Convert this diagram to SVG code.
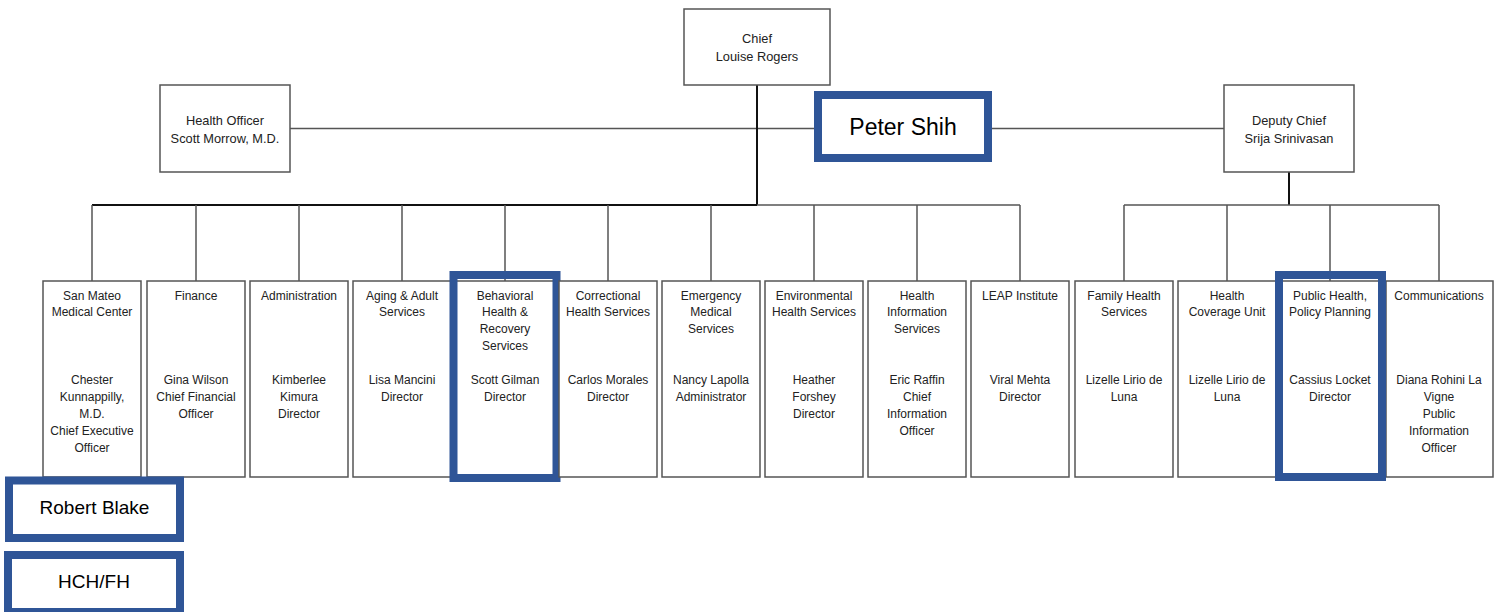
<svg xmlns="http://www.w3.org/2000/svg" width="1500" height="612" viewBox="0 0 1500 612">
<style>
.box{fill:#fff;stroke:#555;stroke-width:1.5}
.hl{fill:none;stroke:#2F5597;stroke-width:8}
.hlf{fill:#fff;stroke:#2F5597;stroke-width:8}
.ln{stroke:#555;stroke-width:1.5;fill:none}
.tk{stroke:#111;stroke-width:2;fill:none}
text{font-family:"Liberation Sans",Arial,sans-serif;fill:#222;text-anchor:middle}
.t{font-size:12px}
.top{font-size:12.8px}
.big{font-size:23px;fill:#000}
.mid{font-size:19px;fill:#000}
</style>
<rect width="1500" height="612" fill="#fff"/>
<g id="connectors">
<line class="ln" x1="290" y1="128.5" x2="1224" y2="128.5"/>
<line class="tk" x1="757" y1="85" x2="757" y2="205"/>
<line class="tk" x1="92" y1="205" x2="757" y2="205"/>
<line class="ln" x1="757" y1="205" x2="1020" y2="205"/>
<line class="tk" x1="1289" y1="172" x2="1289" y2="205"/>
<line class="ln" x1="1124" y1="205" x2="1439" y2="205"/>
<path class="ln" d="M92 205V281M196 205V281M299 205V281M402 205V281M505 205V281M608 205V281M711 205V281M814 205V281M917 205V281M1020 205V281M1124 205V281M1227 205V281M1330 205V281M1439 205V281"/>
</g>
<g id="chief"><rect class="box" x="684" y="9" width="146" height="76"/>
<text class="top" x="757" y="43">Chief</text><text class="top" x="757" y="61">Louise Rogers</text></g>
<g id="health-officer"><rect class="box" x="160" y="85" width="130" height="87"/>
<text class="top" x="225" y="125">Health Officer</text><text class="top" x="225" y="143">Scott Morrow, M.D.</text></g>
<g id="deputy-chief"><rect class="box" x="1224" y="85" width="130" height="87"/>
<text class="top" x="1289" y="125">Deputy Chief</text><text class="top" x="1289" y="143">Srija Srinivasan</text></g>
<g id="peter-shih"><rect class="hlf" x="818" y="95" width="170" height="63"/>
<text class="big" x="903" y="134.5">Peter Shih</text></g>

<g id="san-mateo"><rect class="box" x="43" y="281" width="98" height="196"/>
<text class="t" x="92" y="299.5">San Mateo</text><text class="t" x="92" y="316">Medical Center</text>
<text class="t" x="92" y="383.5">Chester</text><text class="t" x="92" y="400.5">Kunnappilly,</text><text class="t" x="92" y="417.5">M.D.</text><text class="t" x="92" y="434.5">Chief Executive</text><text class="t" x="92" y="451.5">Officer</text></g>
<g id="finance"><rect class="box" x="147" y="281" width="98" height="196"/>
<text class="t" x="196" y="299.5">Finance</text>
<text class="t" x="196" y="383.5">Gina Wilson</text><text class="t" x="196" y="400.5">Chief Financial</text><text class="t" x="196" y="417.5">Officer</text></g>
<g id="administration"><rect class="box" x="250" y="281" width="98" height="196"/>
<text class="t" x="299" y="299.5">Administration</text>
<text class="t" x="299" y="383.5">Kimberlee</text><text class="t" x="299" y="400.5">Kimura</text><text class="t" x="299" y="417.5">Director</text></g>
<g id="aging"><rect class="box" x="353" y="281" width="98" height="196"/>
<text class="t" x="402" y="299.5">Aging &amp; Adult</text><text class="t" x="402" y="316">Services</text>
<text class="t" x="402" y="383.5">Lisa Mancini</text><text class="t" x="402" y="400.5">Director</text></g>
<g id="behavioral"><rect class="box" x="456" y="281" width="98" height="196"/>
<text class="t" x="505" y="299.5">Behavioral</text><text class="t" x="505" y="316">Health &amp;</text><text class="t" x="505" y="333">Recovery</text><text class="t" x="505" y="349.5">Services</text>
<text class="t" x="505" y="383.5">Scott Gilman</text><text class="t" x="505" y="400.5">Director</text>
<rect class="hl" x="453.5" y="275" width="103" height="203"/></g>
<g id="correctional"><rect class="box" x="559" y="281" width="98" height="196"/>
<text class="t" x="608" y="299.5">Correctional</text><text class="t" x="608" y="316">Health Services</text>
<text class="t" x="608" y="383.5">Carlos Morales</text><text class="t" x="608" y="400.5">Director</text></g>
<g id="emergency"><rect class="box" x="662" y="281" width="98" height="196"/>
<text class="t" x="711" y="299.5">Emergency</text><text class="t" x="711" y="316">Medical</text><text class="t" x="711" y="333">Services</text>
<text class="t" x="711" y="383.5">Nancy Lapolla</text><text class="t" x="711" y="400.5">Administrator</text></g>
<g id="environmental"><rect class="box" x="765" y="281" width="98" height="196"/>
<text class="t" x="814" y="299.5">Environmental</text><text class="t" x="814" y="316">Health Services</text>
<text class="t" x="814" y="383.5">Heather</text><text class="t" x="814" y="400.5">Forshey</text><text class="t" x="814" y="417.5">Director</text></g>
<g id="health-information"><rect class="box" x="868" y="281" width="98" height="196"/>
<text class="t" x="917" y="299.5">Health</text><text class="t" x="917" y="316">Information</text><text class="t" x="917" y="333">Services</text>
<text class="t" x="917" y="383.5">Eric Raffin</text><text class="t" x="917" y="400.5">Chief</text><text class="t" x="917" y="417.5">Information</text><text class="t" x="917" y="434.5">Officer</text></g>
<g id="leap"><rect class="box" x="971" y="281" width="98" height="196"/>
<text class="t" x="1020" y="299.5">LEAP Institute</text>
<text class="t" x="1020" y="383.5">Viral Mehta</text><text class="t" x="1020" y="400.5">Director</text></g>
<g id="family-health"><rect class="box" x="1075" y="281" width="98" height="196"/>
<text class="t" x="1124" y="299.5">Family Health</text><text class="t" x="1124" y="316">Services</text>
<text class="t" x="1124" y="383.5">Lizelle Lirio de</text><text class="t" x="1124" y="400.5">Luna</text></g>
<g id="health-coverage"><rect class="box" x="1178" y="281" width="98" height="196"/>
<text class="t" x="1227" y="299.5">Health</text><text class="t" x="1227" y="316">Coverage Unit</text>
<text class="t" x="1227" y="383.5">Lizelle Lirio de</text><text class="t" x="1227" y="400.5">Luna</text></g>
<g id="communications"><rect class="box" x="1386" y="281" width="107" height="196"/>
<text class="t" x="1439" y="299.5">Communications</text>
<text class="t" x="1439" y="383.5">Diana Rohini La</text><text class="t" x="1439" y="400.5">Vigne</text><text class="t" x="1439" y="417.5">Public</text><text class="t" x="1439" y="434.5">Information</text><text class="t" x="1439" y="451.5">Officer</text></g>
<g id="public-health"><rect class="box" x="1281" y="281" width="98" height="196"/>
<text class="t" x="1330" y="299.5">Public Health,</text><text class="t" x="1330" y="316">Policy Planning</text>
<text class="t" x="1330" y="383.5">Cassius Locket</text><text class="t" x="1330" y="400.5">Director</text>
<rect class="hl" x="1279" y="275" width="103" height="202"/></g>
<g id="robert-blake"><rect class="hlf" x="9" y="480.5" width="171" height="57.5"/>
<text class="mid" x="94.5" y="514">Robert Blake</text></g>
<g id="hch-fh"><rect class="hlf" x="8" y="555" width="172" height="57"/>
<text class="mid" x="94" y="588">HCH/FH</text></g>
</svg>
